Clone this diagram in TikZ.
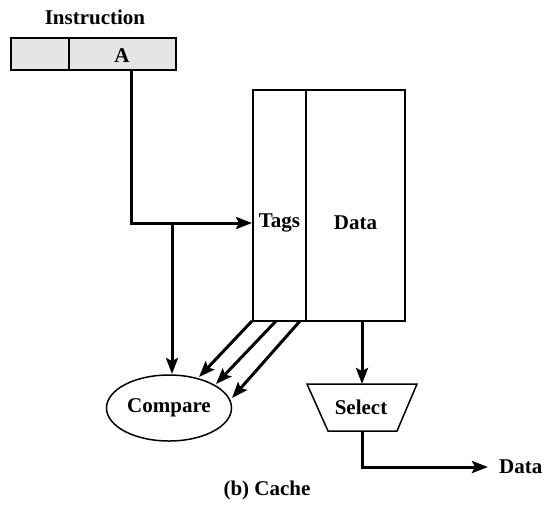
\documentclass[tikz,border=0pt]{standalone}
\usepackage{fontspec}
\setmainfont{Liberation Serif}
\usetikzlibrary{arrows.meta,shapes.geometric}
\begin{document}
\begin{tikzpicture}[x=1pt,y=-1pt,
  lbl/.style={font=\fontsize{21}{25}\selectfont\bfseries, inner sep=0pt},
  boxline/.style={draw, line width=1.5pt},
  conn/.style={line width=3pt, -{Stealth[length=16pt,width=12pt,inset=3pt]}},
  plain/.style={line width=3pt}]
\useasboundingbox (0,0) rectangle (545,504);
% instruction
\node[lbl] (instr) at (95,17) {Instruction};
\path[boxline, fill=black!10] (11,38) rectangle (176,70);
\draw[line width=1.5pt] (69,38) -- (69,70);
\node[lbl] (A) at (122,56) {A};
\coordinate (Abot) at (131,70);
% cache box
\draw[boxline] (253,90) rectangle (405,321);
\draw[line width=1.5pt] (306,90) -- (306,321);
\node[lbl] (tags) at (279.5,223) {Tags};
\node[lbl] (data) at (355.5,223) {Data};
\coordinate (tagsin) at (252,223);
\coordinate (corner) at (131,223);
\coordinate (branch) at (172,223);
% compare
\node[boxline, ellipse, minimum width=125pt, minimum height=66pt, inner sep=0pt] (cmp) at (169,408) {};
\node[lbl] (cmpt) at (169,408) {Compare};
% select
\path[boxline] (307,384) -- (417,384) -- (397,431) -- (328,431) -- cycle;
\node[lbl] (sel) at (361,407) {Select};
\coordinate (seltop) at (362,384);
\coordinate (selbot) at (362,431);
\coordinate (dataout) at (488,467);
\coordinate (elbow) at (362,467);
\node[lbl, anchor=west] (dout) at (499,467) {Data};
\node[lbl] (cap) at (267,490) {(b) Cache};
% connectors
\draw[conn] (Abot) -- (corner) -- (tagsin);
\draw[conn] (branch) -- (172,374);
\draw[conn] (252,321) -- (199,377);
\draw[conn] (276,321) -- (216,384);
\draw[conn] (300,321) -- (232,398);
\draw[conn] (362,321) -- (seltop);
\draw[conn] (selbot) -- (elbow) -- (dataout);
\end{tikzpicture}
\end{document}
